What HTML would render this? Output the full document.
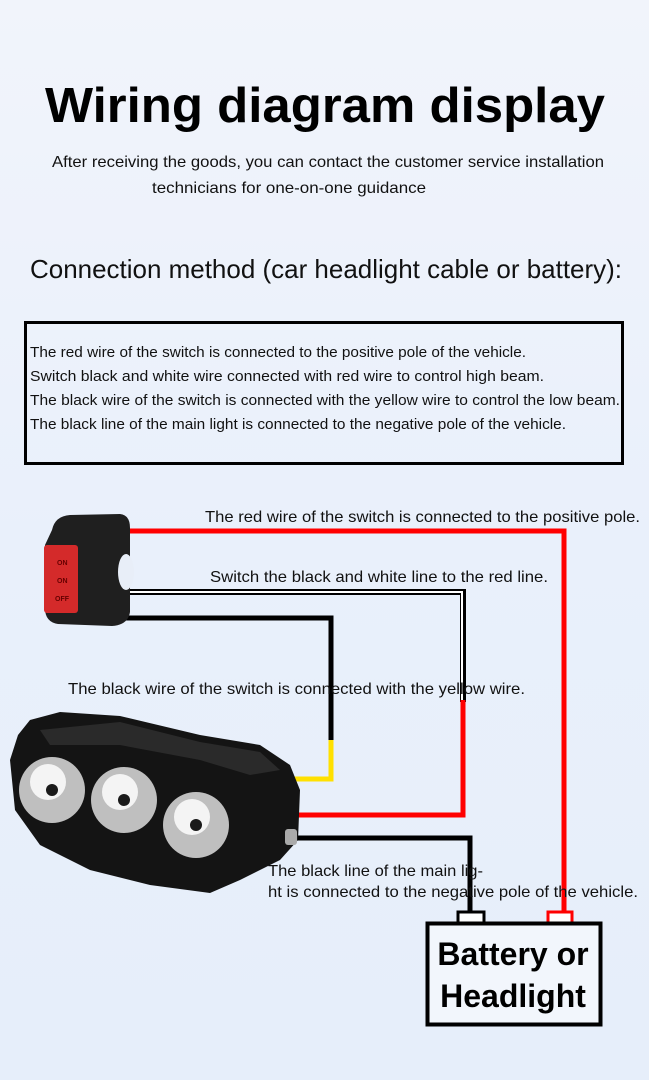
<!DOCTYPE html>
<html><head><meta charset="utf-8"><style>
html,body{margin:0;padding:0}
body{width:649px;height:1080px;overflow:hidden;background:linear-gradient(180deg,#f1f4fb 0%,#e9f0fb 50%,#e6eefa 100%);font-family:"Liberation Sans",sans-serif}
svg{position:absolute;left:0;top:0}
</style></head><body>
<svg width="649" height="1080" viewBox="0 0 649 1080">
<text x="325" y="122" text-anchor="middle" font-family="Liberation Sans" font-weight="bold" font-size="49" fill="#000" textLength="560" lengthAdjust="spacingAndGlyphs">Wiring diagram display</text>
<text x="328" y="167" text-anchor="middle" font-size="16" fill="#111" textLength="552" lengthAdjust="spacingAndGlyphs">After receiving the goods, you can contact the customer service installation</text>
<text x="289" y="193" text-anchor="middle" font-size="16" fill="#111" textLength="274" lengthAdjust="spacingAndGlyphs">technicians for one-on-one guidance</text>
<text x="30" y="278" font-size="26" fill="#111" textLength="592" lengthAdjust="spacingAndGlyphs">Connection method (car headlight cable or battery):</text>
<rect x="25.5" y="322.5" width="597" height="141" fill="none" stroke="#000" stroke-width="3"/>
<g font-size="15" fill="#111">
<text x="30" y="357" textLength="496" lengthAdjust="spacingAndGlyphs">The red wire of the switch is connected to the positive pole of the vehicle.</text>
<text x="30" y="381" textLength="514" lengthAdjust="spacingAndGlyphs">Switch black and white wire connected with red wire to control high beam.</text>
<text x="30" y="405" textLength="590" lengthAdjust="spacingAndGlyphs">The black wire of the switch is connected with the yellow wire to control the low beam.</text>
<text x="30" y="429" textLength="536" lengthAdjust="spacingAndGlyphs">The black line of the main light is connected to the negative pole of the vehicle.</text>
</g>
<!-- wires -->
<polyline points="120,531 564,531 564,912" fill="none" stroke="#f00" stroke-width="5"/>
<polyline points="120,592 463,592 463,702" fill="none" stroke="#000" stroke-width="6"/>
<polyline points="120,592 462,592 462,702" fill="none" stroke="#fff" stroke-width="2"/>
<polyline points="463,700 463,815 290,815" fill="none" stroke="#f00" stroke-width="5"/>
<polyline points="120,618 331,618 331,742" fill="none" stroke="#000" stroke-width="5"/>
<polyline points="331,740 331,779 290,779" fill="none" stroke="#ffe000" stroke-width="5"/>
<polyline points="295,838 470,838 470,912" fill="none" stroke="#000" stroke-width="5"/>
<!-- labels -->
<g font-size="16" fill="#111">
<text x="205" y="522" textLength="435" lengthAdjust="spacingAndGlyphs">The red wire of the switch is connected to the positive pole.</text>
<text x="210" y="582" textLength="338" lengthAdjust="spacingAndGlyphs">Switch the black and white line to the red line.</text>
<text x="68" y="694" textLength="457" lengthAdjust="spacingAndGlyphs">The black wire of the switch is connected with the yellow wire.</text>
<text x="268" y="876" textLength="215" lengthAdjust="spacingAndGlyphs">The black line of the main lig-</text>
<text x="268" y="897" textLength="370" lengthAdjust="spacingAndGlyphs">ht is connected to the negative pole of the vehicle.</text>
</g>
<!-- battery -->
<rect x="458" y="912" width="26" height="12" fill="#fff" stroke="#000" stroke-width="3"/>
<rect x="548" y="912" width="24" height="12" fill="#fff" stroke="#f00" stroke-width="3"/>
<rect x="427.5" y="923.5" width="173" height="101" fill="#f2f6fc" stroke="#000" stroke-width="4"/>
<text x="513" y="965" text-anchor="middle" font-weight="bold" font-size="32" fill="#000">Battery or</text>
<text x="513" y="1007" text-anchor="middle" font-weight="bold" font-size="32" fill="#000">Headlight</text>
<!-- switch -->
<path d="M52,530 Q55,516 70,515 L120,514 Q130,515 130,528 L130,612 Q128,625 112,626 L58,624 Q45,622 45,608 L45,545 Z" fill="#1f1f1f"/>
<ellipse cx="126" cy="572" rx="8" ry="18" fill="#e8eef8"/>
<rect x="44" y="545" width="34" height="68" rx="3" fill="#d42a2a"/>
<g font-size="7" fill="#600" font-weight="bold"><text x="57" y="565">ON</text><text x="57" y="583">ON</text><text x="55" y="601">OFF</text></g>
<!-- headlight -->
<path d="M30,720 L60,712 L120,716 L200,735 L260,745 L290,765 L300,790 L298,840 L280,860 L240,880 L210,893 L150,885 L90,870 L40,845 L15,810 L10,760 L18,735 Z" fill="#141414"/>
<path d="M40,730 L120,722 L200,742 L260,752 L280,770 L250,775 L200,760 L120,745 L50,745 Z" fill="#2a2a2a"/>
<g fill="#bfbfbf"><circle cx="52" cy="790" r="33"/><circle cx="124" cy="800" r="33"/><circle cx="196" cy="825" r="33"/></g>
<g fill="#f4f4f4"><circle cx="48" cy="782" r="18"/><circle cx="120" cy="792" r="18"/><circle cx="192" cy="817" r="18"/></g>
<g fill="#1a1a1a"><circle cx="52" cy="790" r="6"/><circle cx="124" cy="800" r="6"/><circle cx="196" cy="825" r="6"/></g>
<rect x="285" y="829" width="12" height="16" rx="3" fill="#aaa"/>
</svg>
</body></html>
